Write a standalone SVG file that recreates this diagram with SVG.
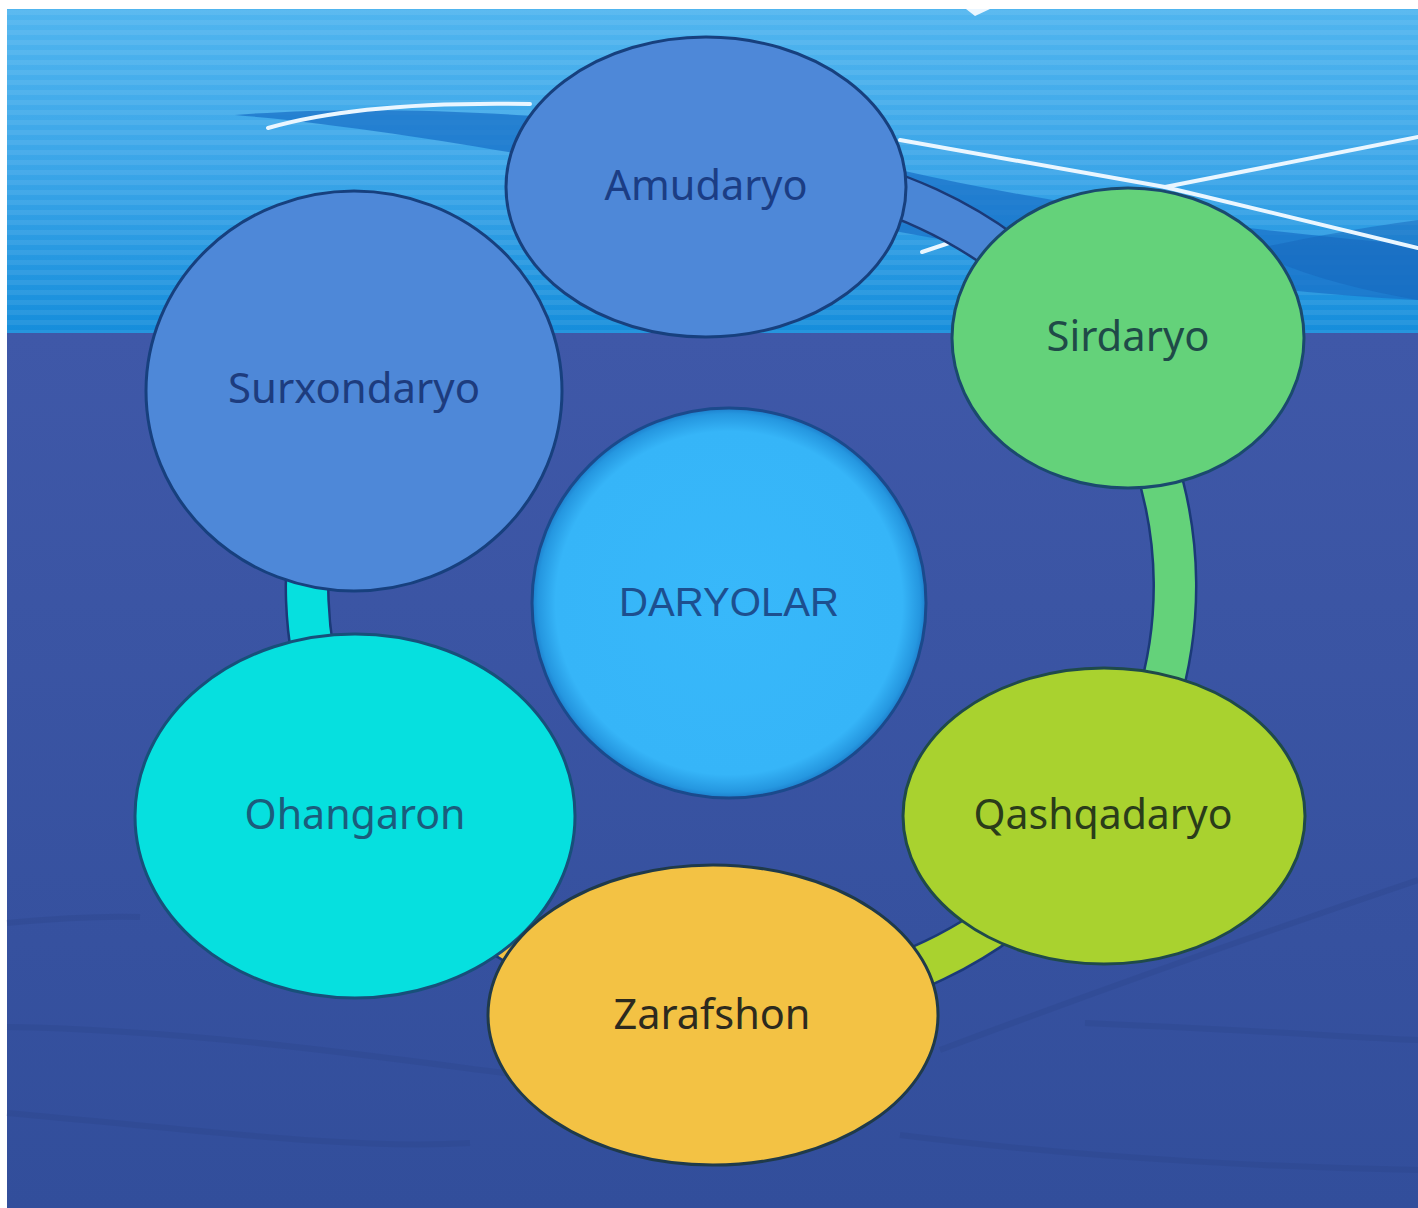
<svg xmlns="http://www.w3.org/2000/svg" width="1418" height="1208" viewBox="0 0 1418 1208">
<style>
.node{stroke-width:3}
.lbl{font-family:"Noto Sans","Open Sans",sans-serif;font-size:42px;text-anchor:middle}
.seg{fill:none;stroke-width:40}
.segout{fill:none;stroke:#1b3a78;stroke-width:45}
.wl{fill:none;stroke:#eaf6ff;stroke-width:4;stroke-linecap:round}
</style>
<defs>
<linearGradient id="topg" x1="0" y1="0" x2="0" y2="1">
<stop offset="0" stop-color="#50b5ef"/>
<stop offset="0.5" stop-color="#3aa5e8"/>
<stop offset="1" stop-color="#158ddb"/>
</linearGradient>
<linearGradient id="botg" x1="0" y1="0" x2="0" y2="1">
<stop offset="0" stop-color="#3f58a8"/>
<stop offset="1" stop-color="#324e9b"/>
</linearGradient>
<pattern id="stripes" patternUnits="userSpaceOnUse" width="20" height="10">
<rect x="0" y="0" width="20" height="5" fill="#ffffff" opacity="0.07"/>
</pattern>
<radialGradient id="cg" cx="0.5" cy="0.5" r="0.5">
<stop offset="0" stop-color="#38b8fa"/>
<stop offset="0.88" stop-color="#36b5f8"/>
<stop offset="0.97" stop-color="#2597e0"/>
<stop offset="1" stop-color="#1d7fcc"/>
</radialGradient>
</defs>
<rect x="0" y="0" width="1418" height="1208" fill="#ffffff"/>
<g id="background">
<rect x="7" y="9" width="1411" height="325" fill="url(#topg)"/>
<rect x="7" y="9" width="1411" height="325" fill="url(#stripes)"/>
<path d="M235,115 C420,100 700,120 900,170 C1100,215 1300,235 1418,245 L1418,300 C1250,292 1060,262 900,232 C700,185 420,130 235,115 Z" fill="#1a72c8" opacity="0.75"/>
<path d="M1250,250 C1320,235 1380,225 1418,220 L1418,300 C1360,290 1300,275 1250,250 Z" fill="#1566bb" opacity="0.5"/>
<path class="wl" d="M268,128 C330,110 420,102 530,104"/>
<path class="wl" d="M900,140 L1165,187 L1418,248"/>
<path class="wl" d="M1165,187 L1418,137"/>
<path class="wl" d="M922,252 L955,241"/>
<path d="M966,9 L990,9 L975,16 Z" fill="#eaf6ff"/>
<rect x="7" y="333" width="1411" height="875" fill="url(#botg)"/>
<g fill="none" stroke="#2a4286" stroke-width="6" opacity="0.28">
<path d="M7,1027 C200,1030 400,1060 520,1075"/>
<path d="M900,1135 C1100,1160 1300,1168 1418,1170"/>
<path d="M7,1113 C200,1130 350,1150 470,1143"/>
<path d="M940,1050 C1100,990 1300,920 1418,880"/>
<path d="M1085,1023 C1250,1030 1350,1037 1418,1040"/>
<path d="M7,923 C60,918 110,916 140,917"/>
</g>
</g>
<g id="connectors">
<path class="segout" d="M703.2,169.6 A434,418 0 0 1 1100.8,352.3"/>
<path class="segout" d="M1100.8,352.3 A434,418 0 0 1 1105,813.6"/>
<path class="segout" d="M1105,813.6 A434,418 0 0 1 710.7,1003"/>
<path class="segout" d="M710.7,1003 A434,418 0 0 1 373,807.5"/>
<path class="segout" d="M373,807.5 A434,418 0 0 1 357.8,389.8"/>
<path class="seg" stroke="#4a86d6" d="M703.2,169.6 A434,418 0 0 1 1100.8,352.3"/>
<path class="seg" stroke="#64d27a" d="M1100.8,352.3 A434,418 0 0 1 1105,813.6"/>
<path class="seg" stroke="#a9d22f" d="M1105,813.6 A434,418 0 0 1 710.7,1003"/>
<path class="seg" stroke="#f3c244" d="M710.7,1003 A434,418 0 0 1 373,807.5"/>
<path class="seg" stroke="#06e0df" d="M373,807.5 A434,418 0 0 1 357.8,389.8"/>
</g>
<g id="node-surxondaryo">
<ellipse class="node" cx="354" cy="391" rx="208" ry="200" fill="#4e88d8" stroke="#17407e"/>
<text class="lbl" x="354" y="403" fill="#1d3c7e" textLength="252" lengthAdjust="spacingAndGlyphs">Surxondaryo</text>
</g>
<g id="node-amudaryo">
<ellipse class="node" cx="706" cy="187" rx="200" ry="150" fill="#4e88d8" stroke="#17407e"/>
<text class="lbl" x="706" y="200" fill="#1b3d84" textLength="203" lengthAdjust="spacingAndGlyphs">Amudaryo</text>
</g>
<g id="node-sirdaryo">
<ellipse class="node" cx="1128" cy="338" rx="176" ry="150" fill="#64d27a" stroke="#1a4a6e"/>
<text class="lbl" x="1128" y="351" fill="#1f4a48" textLength="163" lengthAdjust="spacingAndGlyphs">Sirdaryo</text>
</g>
<g id="node-daryolar">
<ellipse cx="729" cy="603" rx="197" ry="195" fill="url(#cg)" stroke="#1b4a8c" stroke-width="3"/>
<text x="729" y="616" fill="#1d4f8f" font-family="'Liberation Sans',Arial,sans-serif" font-size="40" text-anchor="middle" textLength="220" lengthAdjust="spacingAndGlyphs">DARYOLAR</text>
</g>
<g id="node-ohangaron">
<ellipse class="node" cx="355" cy="816" rx="220" ry="182" fill="#06e0df" stroke="#17507a"/>
<text class="lbl" x="355" y="829" fill="#1b5c7c" textLength="221" lengthAdjust="spacingAndGlyphs">Ohangaron</text>
</g>
<g id="node-qashqadaryo">
<ellipse class="node" cx="1104" cy="816" rx="201" ry="148" fill="#a9d22f" stroke="#1f4a4a"/>
<text class="lbl" x="1103" y="829" fill="#2a3c1a" textLength="259" lengthAdjust="spacingAndGlyphs">Qashqadaryo</text>
</g>
<g id="node-zarafshon">
<ellipse class="node" cx="713" cy="1015" rx="225" ry="150" fill="#f3c244" stroke="#1f3a4a"/>
<text class="lbl" x="712" y="1029" fill="#2c2a1e" textLength="197" lengthAdjust="spacingAndGlyphs">Zarafshon</text>
</g>
</svg>
